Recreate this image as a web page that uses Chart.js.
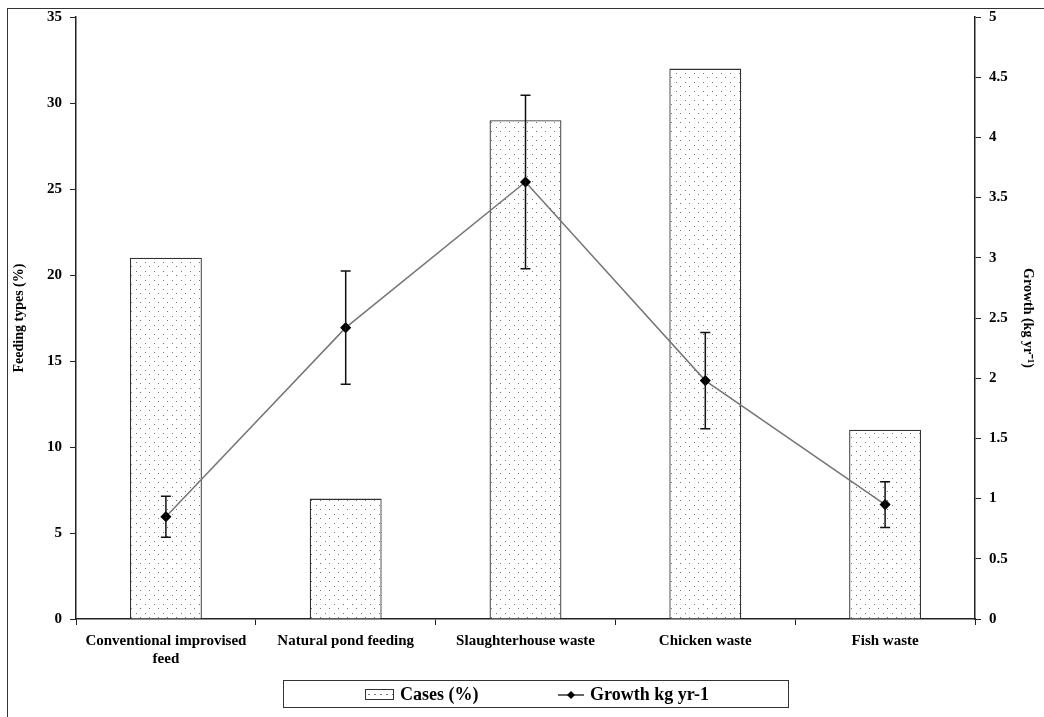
<!DOCTYPE html>
<html>
<head>
<meta charset="utf-8">
<script src="https://cdn.jsdelivr.net/npm/chart.js@4.4.0/dist/chart.umd.min.js"></script>
<style>
  html, body { margin: 0; padding: 0; background: #fff; }
  #wrap { position: relative; width: 1044px; height: 717px; overflow: hidden; }
  #frame { position: absolute; left: 7px; top: 8px; width: 1100px; height: 800px;
           border-left: 1.5px solid #333; border-top: 1.5px solid #333; pointer-events: none; }
  canvas { position: absolute; left: 0; top: 0; }
  #legend { position: absolute; left: 283px; top: 680px; width: 504px; height: 26px;
            border: 1.5px solid #333; font: bold 18px 'Liberation Serif', 'Times New Roman', serif; color: #000; }
  .item { position: absolute; top: 3px; line-height: 20px; white-space: nowrap; }
  .sw { display: inline-block; vertical-align: middle; margin-right: 6px; position: relative; top: -1px; }
  .bar-sw { width: 27px; height: 9px; border: 1px solid #333;
            background-image: radial-gradient(circle, #777 0.6px, transparent 0.9px); background-size: 6px 9px; background-color: #fff; }
  .line-sw { width: 26px; height: 10px; }
</style>
</head>
<body>
<div id="wrap">
  <canvas id="chart" width="1044" height="717"></canvas>
  <div id="frame"></div>
  <div id="legend">
    <span class="item" style="left:81px"><span class="sw bar-sw"></span>Cases (%)</span>
    <span class="item" style="left:274px"><svg class="sw line-sw" viewBox="0 0 26 10"><line x1="0" y1="5" x2="26" y2="5" stroke="#000" stroke-width="1.2"/><path d="M13 1 L17 5 L13 9 L9 5 Z" fill="#000"/></svg>Growth kg yr-1</span>
  </div>
</div>
<script>
const categories = [
  ["Conventional improvised", "feed"],
  "Natural pond feeding",
  "Slaughterhouse waste",
  "Chicken waste",
  "Fish waste"
];
const casesPct = [21, 7, 29, 32, 11];
const growth = [0.85, 2.42, 3.63, 1.98, 0.95];
const growthErr = [0.17, 0.47, 0.72, 0.40, 0.19];
const leftTicks = [0, 5, 10, 15, 20, 25, 30, 35];
const rightTicks = [0, 0.5, 1, 1.5, 2, 2.5, 3, 3.5, 4, 4.5, 5];

const font = "'Liberation Serif', 'Times New Roman', serif";

// dotted fill for the bars
function dotPattern() {
  const c = document.createElement("canvas");
  c.width = 9; c.height = 9;
  const g = c.getContext("2d");
  g.fillStyle = "#fff";
  g.fillRect(0, 0, 9, 9);
  g.fillStyle = "#777";
  g.fillRect(1, 1, 1, 1);
  g.fillRect(5, 5, 1, 1);
  return g.createPattern(c, "repeat");
}
const dots = dotPattern();

// error bars on the growth line
const errorBars = {
  id: "errorBars",
  afterDatasetsDraw(chart) {
    const meta = chart.getDatasetMeta(1);
    const y = chart.scales.y1;
    const ctx = chart.ctx;
    ctx.save();
    ctx.strokeStyle = "#111";
    ctx.lineWidth = 1.5;
    meta.data.forEach((pt, i) => {
      const top = y.getPixelForValue(growth[i] + growthErr[i]);
      const bot = y.getPixelForValue(growth[i] - growthErr[i]);
      ctx.beginPath();
      ctx.moveTo(pt.x, top); ctx.lineTo(pt.x, bot);
      ctx.moveTo(pt.x - 5, top); ctx.lineTo(pt.x + 5, top);
      ctx.moveTo(pt.x - 5, bot); ctx.lineTo(pt.x + 5, bot);
      ctx.stroke();
    });
    ctx.restore();
  }
};

new Chart(document.getElementById("chart"), {
  data: {
    labels: categories,
    datasets: [
      {
        type: "bar",
        label: "Cases (%)",
        data: casesPct,
        yAxisID: "y",
        backgroundColor: dots,
        borderColor: "#333",
        borderWidth: 1.3,
        barPercentage: 0.8,
        categoryPercentage: 0.5,
        order: 2
      },
      {
        type: "line",
        label: "Growth kg yr-1",
        data: growth,
        yAxisID: "y1",
        borderColor: "#767676",
        borderWidth: 1.5,
        tension: 0,
        pointStyle: "rectRot",
        pointRadius: 4.5,
        pointBackgroundColor: "#000",
        pointBorderColor: "#000",
        order: 1
      }
    ]
  },
  options: {
    responsive: false,
    animation: false,
    layout: { padding: { top: 12, left: 11, right: 8, bottom: 45 } },
    plugins: {
      tooltip: { enabled: false },
      legend: { display: false }
    },
    scales: {
      x: {
        offset: true,
        grid: { display: true, drawOnChartArea: false, drawTicks: true, tickLength: 6, color: "#222", offset: true },
        border: { color: "#222", width: 1.5 },
        ticks: { color: "#000", font: { family: font, size: 15, weight: "bold" }, padding: 7, maxRotation: 0, autoSkip: false },
        afterFit(s) { s.height = 53; }
      },
      y: {
        position: "left",
        min: 0, max: 35,
        afterBuildTicks(s) { s.ticks = leftTicks.map(v => ({ value: v })); },
        grid: { drawOnChartArea: false, tickLength: 6, color: "#222" },
        border: { color: "#222", width: 1.5 },
        ticks: { color: "#000", font: { family: font, size: 15, weight: "bold" }, padding: 8 },
        title: { display: true, text: "Feeding types (%)", color: "#000", font: { family: font, size: 14, weight: "bold" }, padding: 0 },
        afterFit(s) { s.width = 65; }
      },
      y1: {
        position: "right",
        min: 0, max: 5,
        afterBuildTicks(s) { s.ticks = rightTicks.map(v => ({ value: v })); },
        grid: { drawOnChartArea: false, tickLength: 6, color: "#222" },
        border: { color: "#222", width: 1.5 },
        ticks: { color: "#000", font: { family: font, size: 15, weight: "bold" }, padding: 8,
                 callback: v => String(v) },
        title: { display: true, text: "Growth (kg yr⁻¹)", color: "#000", font: { family: font, size: 14, weight: "bold" }, padding: 0 },
        afterFit(s) { s.width = 61; }
      }
    }
  },
  plugins: [errorBars]
});
</script>
</body>
</html>
